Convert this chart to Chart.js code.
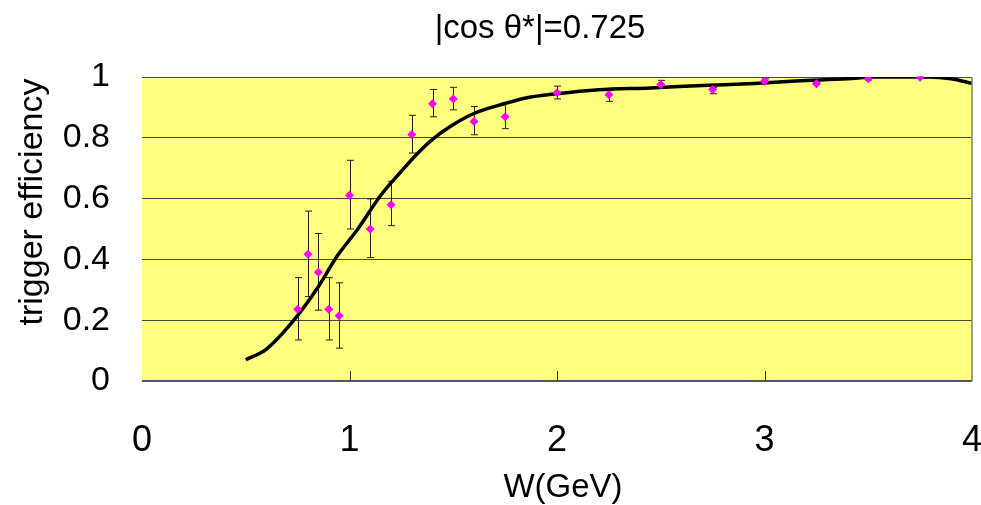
<!DOCTYPE html>
<html>
<head>
<meta charset="utf-8">
<script src="https://cdn.jsdelivr.net/npm/chart.js@4.4.1/dist/chart.umd.min.js"></script>
<style>
  html, body { margin: 0; padding: 0; background: #fff; }
  #wrap { width: 981px; height: 505px; }
</style>
</head>
<body>
<div id="wrap"><canvas id="c" width="981" height="505"></canvas></div>
<script>
// measured points with asymmetric errors
const wValues   = [0.75, 0.80, 0.85, 0.90, 0.95, 1.00, 1.10, 1.20, 1.30, 1.40, 1.50, 1.60, 1.75, 2.00, 2.25, 2.50, 2.75, 3.00, 3.25, 3.50, 3.75];
const effValues = [0.236, 0.417, 0.358, 0.236, 0.215, 0.611, 0.500, 0.580, 0.811, 0.912, 0.928, 0.854, 0.869, 0.948, 0.942, 0.975, 0.959, 0.986, 0.978, 0.994, 0.999];
const errPlus   = [0.104, 0.142, 0.127, 0.104, 0.108, 0.115, 0.099, 0.077, 0.063, 0.047, 0.038, 0.049, 0.046, 0.022, 0.013, 0.014, 0.006, 0.008, 0.004, 0.004, 0.001];
const errMinus  = [0.101, 0.139, 0.125, 0.101, 0.107, 0.111, 0.094, 0.069, 0.061, 0.043, 0.036, 0.044, 0.039, 0.020, 0.022, 0.011, 0.014, 0.008, 0.003, 0.004, 0.004];

// fitted efficiency curve
const curveW   = [0.50, 0.60, 0.72, 0.84, 0.94, 1.04, 1.15, 1.25, 1.33, 1.40, 1.48, 1.60, 1.75, 1.85, 2.00, 2.20, 2.45, 2.70, 2.95, 3.15, 3.40, 3.53, 3.79, 3.90, 4.00];
const curveEff = [0.070, 0.105, 0.190, 0.300, 0.410, 0.500, 0.610, 0.690, 0.750, 0.795, 0.835, 0.880, 0.913, 0.931, 0.945, 0.958, 0.964, 0.972, 0.979, 0.987, 0.994, 1.000, 1.000, 0.994, 0.979];

const xTicks = [0, 1, 2, 3, 4];
const yTicks = [0, 0.2, 0.4, 0.6, 0.8, 1];

const titleText  = '|cos θ*|=0.725';
const xTitleText = 'W(GeV)';
const yTitleText = 'trigger efficiency';

const FONT = "'Liberation Sans', Arial, sans-serif";

const plotFrame = {
  id: 'plotFrame',
  beforeDraw(chart) {
    const { ctx, chartArea: a } = chart;
    ctx.save();
    ctx.fillStyle = '#ffff80';
    ctx.fillRect(a.left, a.top, a.right - a.left, a.bottom - a.top);
    ctx.restore();
  },
  beforeDatasetsDraw(chart) {
    // error bars sit under the curve and markers
    const { ctx, scales: { x, y } } = chart;
    ctx.save();
    ctx.strokeStyle = '#222';
    ctx.lineWidth = 1;
    wValues.forEach((w, i) => {
      const px = Math.round(x.getPixelForValue(w)) + 0.5;
      const top = y.getPixelForValue(effValues[i] + errPlus[i]);
      const bot = y.getPixelForValue(effValues[i] - errMinus[i]);
      ctx.beginPath();
      ctx.moveTo(px, top); ctx.lineTo(px, bot);
      ctx.moveTo(px - 3.5, top); ctx.lineTo(px + 3.5, top);
      ctx.moveTo(px - 3.5, bot); ctx.lineTo(px + 3.5, bot);
      ctx.stroke();
    });
    ctx.restore();
  },
  afterDraw(chart) {
    const { ctx, chartArea: a, scales: { x } } = chart;
    ctx.save();
    ctx.strokeStyle = '#808080';
    ctx.lineWidth = 1.5;
    ctx.beginPath();
    ctx.moveTo(a.right, a.top); ctx.lineTo(a.right, a.bottom);
    ctx.stroke();
    ctx.strokeStyle = '#555';
    ctx.lineWidth = 2;
    ctx.beginPath();
    ctx.moveTo(a.left, a.bottom); ctx.lineTo(a.right, a.bottom);
    ctx.stroke();
    ctx.lineWidth = 1;
    ctx.strokeStyle = '#333';
    ctx.beginPath();
    [1, 2, 3].forEach(v => {
      const px = Math.round(x.getPixelForValue(v)) + 0.5;
      ctx.moveTo(px, a.bottom); ctx.lineTo(px, a.bottom - 10);
    });
    ctx.stroke();

    ctx.fillStyle = '#000';
    ctx.textAlign = 'center';
    ctx.textBaseline = 'alphabetic';
    ctx.font = '33px ' + FONT;
    ctx.fillText(titleText, 540, 38);
    ctx.fillText(xTitleText, 563, 497);
    ctx.translate(33, 202);
    ctx.rotate(-Math.PI / 2);
    ctx.textBaseline = 'middle';
    ctx.font = '34px ' + FONT;
    ctx.fillText(yTitleText, 0, 0);
    ctx.restore();
  }
};

new Chart(document.getElementById('c'), {
  type: 'scatter',
  data: {
    datasets: [
      {
        label: 'data',
        data: wValues.map((w, i) => ({ x: w, y: effValues[i] })),
        pointStyle: 'rectRot',
        pointRadius: 4.5,
        backgroundColor: '#ff00ff',
        borderColor: '#ff00ff',
        borderWidth: 0,
        order: 0
      },
      {
        label: 'fit',
        data: curveW.map((w, i) => ({ x: w, y: curveEff[i] })),
        showLine: true,
        borderColor: '#000',
        borderWidth: 3.5,
        pointRadius: 0,
        cubicInterpolationMode: 'monotone',
        order: 1
      }
    ]
  },
  options: {
    responsive: false,
    animation: false,
    layout: { padding: { top: 77, right: 9, left: 0, bottom: 0 } },
    plugins: { legend: { display: false }, tooltip: { enabled: false } },
    scales: {
      x: {
        type: 'linear',
        min: 0, max: 4,
        afterBuildTicks: s => { s.ticks = xTicks.map(v => ({ value: v })); },
        afterFit: s => { s.height = 124; s.paddingLeft = 0; s.paddingRight = 0; },
        grid: { display: false },
        border: { display: false },
        ticks: { color: '#000', padding: 30, font: { family: FONT, size: 36 } }
      },
      y: {
        min: 0, max: 1,
        afterBuildTicks: s => { s.ticks = yTicks.map(v => ({ value: v })); },
        afterFit: s => { s.width = 142; s.paddingTop = 0; s.paddingBottom = 0; },
        grid: { color: '#4a4a3c', lineWidth: 1, drawTicks: false },
        border: { display: false },
        ticks: {
          color: '#000', padding: 32, font: { family: FONT, size: 34 },
          callback: v => String(+v.toFixed(1))
        }
      }
    }
  },
  plugins: [plotFrame]
});
</script>
</body>
</html>
